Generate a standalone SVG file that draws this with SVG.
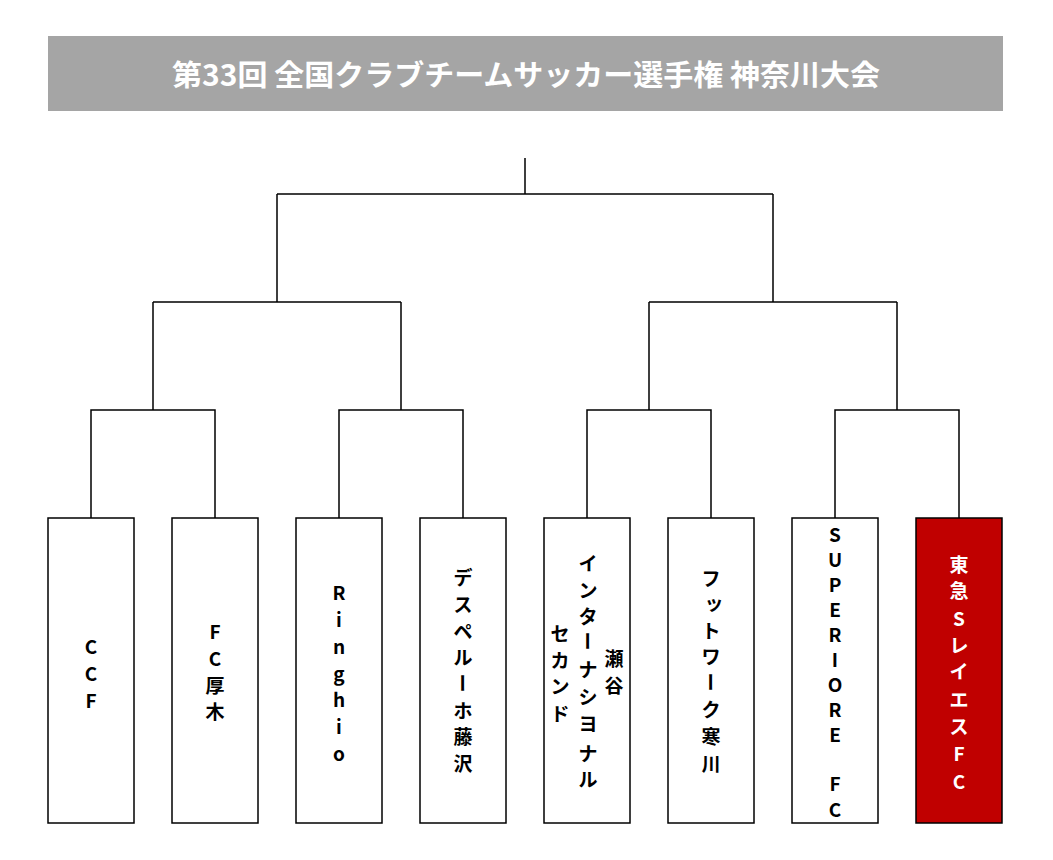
<svg xmlns="http://www.w3.org/2000/svg" width="1053" height="860" viewBox="0 0 1053 860">
<style>
.box{fill:#ffffff;stroke:#000000;stroke-width:1.5}
.win{fill:#c00000;stroke:#000000;stroke-width:1.5}
.ln{fill:none;stroke:#000000;stroke-width:1.5}
.t{font-family:"Noto Sans CJK JP","DejaVu Sans",sans-serif;font-weight:bold;font-size:19px;fill:#000000;text-anchor:middle;dominant-baseline:central}
.tw{fill:#ffffff}
.title{font-family:"Noto Sans CJK JP","DejaVu Sans",sans-serif;font-weight:bold;font-size:29px;fill:#ffffff;text-anchor:middle;dominant-baseline:central}
</style>
<rect width="1053" height="860" fill="#ffffff"/>
<g id="title">
<rect x="48" y="36" width="955" height="75" fill="#a5a5a5"/>
<text class="title" x="526" y="73" textLength="708" lengthAdjust="spacingAndGlyphs">第33回 全国クラブチームサッカー選手権 神奈川大会</text>
</g>
<g id="connectors">
<path class="ln" d="M91 518V410H215V518M153 410V302"/>
<path class="ln" d="M339 518V410H463V518M401 410V302"/>
<path class="ln" d="M587 518V410H711V518M649 410V302"/>
<path class="ln" d="M835 518V410H959V518M897 410V302"/>
<path class="ln" d="M153 302H401M277 302V194"/>
<path class="ln" d="M649 302H897M773 302V194"/>
<path class="ln" d="M277 194H773M525 194V158"/>
</g>
<g id="team1">
<rect class="box" x="48" y="518" width="86" height="305"/>
<text class="t"><tspan x="91" y="645">C</tspan><tspan x="91" y="672">C</tspan><tspan x="91" y="699">F</tspan></text>
</g>
<g id="team2">
<rect class="box" x="172" y="518" width="86" height="305"/>
<text class="t"><tspan x="215" y="630">F</tspan><tspan x="215" y="657">C</tspan><tspan x="215" y="684">厚</tspan><tspan x="215" y="710">木</tspan></text>
</g>
<g id="team3">
<rect class="box" x="296" y="518" width="86" height="305"/>
<text class="t"><tspan x="339" y="591">R</tspan><tspan x="339" y="618">i</tspan><tspan x="339" y="645">n</tspan><tspan x="339" y="672">g</tspan><tspan x="339" y="698">h</tspan><tspan x="339" y="725">i</tspan><tspan x="339" y="752">o</tspan></text>
</g>
<g id="team4">
<rect class="box" x="420" y="518" width="86" height="305"/>
<text class="t"><tspan x="463" y="576">デ</tspan><tspan x="463" y="603">ス</tspan><tspan x="463" y="630">ペ</tspan><tspan x="463" y="656">ル</tspan></text>
<text class="t" x="463" y="683" transform="rotate(90 463 683)">ー</text>
<text class="t"><tspan x="463" y="709">ホ</tspan><tspan x="463" y="735">藤</tspan><tspan x="463" y="762">沢</tspan></text>
</g>
<g id="team5">
<rect class="box" x="544" y="518" width="86" height="305"/>
<text class="t"><tspan x="614" y="657">瀬</tspan><tspan x="614" y="684">谷</tspan></text>
<text class="t"><tspan x="588" y="562">イ</tspan><tspan x="588" y="589">ン</tspan><tspan x="588" y="615">タ</tspan></text>
<text class="t" x="588" y="641" transform="rotate(90 588 641)">ー</text>
<text class="t"><tspan x="588" y="668">ナ</tspan><tspan x="588" y="695">シ</tspan><tspan x="588" y="722">ヨ</tspan><tspan x="588" y="752">ナ</tspan><tspan x="588" y="778">ル</tspan></text>
<text class="t"><tspan x="560" y="632">セ</tspan><tspan x="560" y="659">カ</tspan><tspan x="560" y="685">ン</tspan><tspan x="560" y="712">ド</tspan></text>
</g>
<g id="team6">
<rect class="box" x="668" y="518" width="86" height="305"/>
<text class="t"><tspan x="711" y="577">フ</tspan><tspan x="714" y="601">ッ</tspan><tspan x="711" y="629">ト</tspan><tspan x="711" y="655">ワ</tspan></text>
<text class="t" x="711" y="682" transform="rotate(90 711 682)">ー</text>
<text class="t"><tspan x="711" y="708">ク</tspan><tspan x="711" y="735">寒</tspan><tspan x="711" y="762">川</tspan></text>
</g>
<g id="team7">
<rect class="box" x="792" y="518" width="86" height="305"/>
<text class="t"><tspan x="835" y="533">S</tspan><tspan x="835" y="558">U</tspan><tspan x="835" y="583">P</tspan><tspan x="835" y="608">E</tspan><tspan x="835" y="633">R</tspan><tspan x="835" y="658">I</tspan><tspan x="835" y="683">O</tspan><tspan x="835" y="708">R</tspan><tspan x="835" y="733">E</tspan><tspan x="835" y="782">F</tspan><tspan x="835" y="808">C</tspan></text>
</g>
<g id="team8">
<rect class="win" x="916" y="518" width="86" height="305"/>
<text class="t tw"><tspan x="959" y="563">東</tspan><tspan x="959" y="589">急</tspan><tspan x="959" y="617">S</tspan><tspan x="959" y="644">レ</tspan><tspan x="959" y="670">イ</tspan><tspan x="959" y="698">エ</tspan><tspan x="959" y="725">ス</tspan><tspan x="959" y="752">F</tspan><tspan x="959" y="780">C</tspan></text>
</g>
</svg>
